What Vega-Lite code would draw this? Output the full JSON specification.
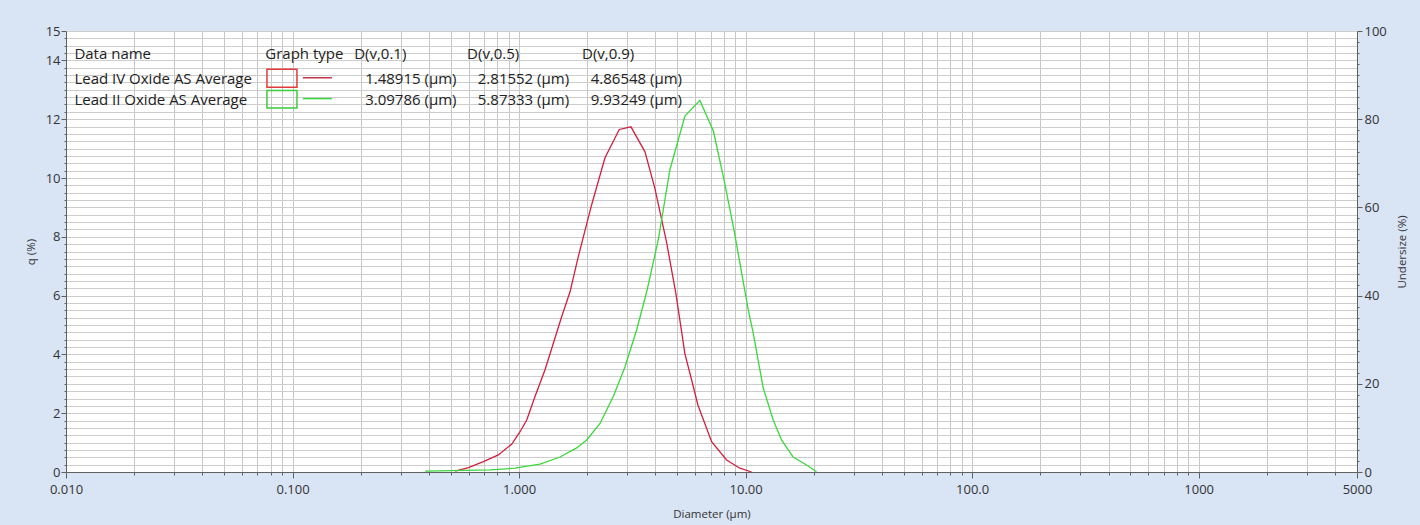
{
  "$schema": "https://vega.github.io/schema/vega-lite/v6.json",
  "width": 1291,
  "height": 441,
  "autosize": "none",
  "padding": {"left": 66, "top": 31, "right": 63, "bottom": 53},
  "background": "#d9e4f5",
  "view": {"fill": "#ffffff", "stroke": null},
  "config": {
    "font": "Open Sans",
    "axis": {"labelFont": "Open Sans", "titleFont": "Open Sans"}
  },
  "datasets": {
    "curves": [
      {"series": "Lead IV Oxide AS Average", "d": 0.522, "q": 0.03},
      {"series": "Lead IV Oxide AS Average", "d": 0.598, "q": 0.15},
      {"series": "Lead IV Oxide AS Average", "d": 0.696, "q": 0.35},
      {"series": "Lead IV Oxide AS Average", "d": 0.810, "q": 0.58},
      {"series": "Lead IV Oxide AS Average", "d": 0.929, "q": 0.95},
      {"series": "Lead IV Oxide AS Average", "d": 1.010, "q": 1.37},
      {"series": "Lead IV Oxide AS Average", "d": 1.081, "q": 1.77},
      {"series": "Lead IV Oxide AS Average", "d": 1.176, "q": 2.57},
      {"series": "Lead IV Oxide AS Average", "d": 1.302, "q": 3.48},
      {"series": "Lead IV Oxide AS Average", "d": 1.417, "q": 4.38},
      {"series": "Lead IV Oxide AS Average", "d": 1.543, "q": 5.29},
      {"series": "Lead IV Oxide AS Average", "d": 1.679, "q": 6.13},
      {"series": "Lead IV Oxide AS Average", "d": 1.821, "q": 7.29},
      {"series": "Lead IV Oxide AS Average", "d": 2.093, "q": 9.10},
      {"series": "Lead IV Oxide AS Average", "d": 2.395, "q": 10.69},
      {"series": "Lead IV Oxide AS Average", "d": 2.770, "q": 11.65},
      {"series": "Lead IV Oxide AS Average", "d": 3.119, "q": 11.74},
      {"series": "Lead IV Oxide AS Average", "d": 3.596, "q": 10.89},
      {"series": "Lead IV Oxide AS Average", "d": 3.980, "q": 9.64},
      {"series": "Lead IV Oxide AS Average", "d": 4.482, "q": 7.80},
      {"series": "Lead IV Oxide AS Average", "d": 4.926, "q": 6.06},
      {"series": "Lead IV Oxide AS Average", "d": 5.397, "q": 4.02},
      {"series": "Lead IV Oxide AS Average", "d": 5.778, "q": 3.13},
      {"series": "Lead IV Oxide AS Average", "d": 6.159, "q": 2.28},
      {"series": "Lead IV Oxide AS Average", "d": 7.079, "q": 1.03},
      {"series": "Lead IV Oxide AS Average", "d": 8.245, "q": 0.41},
      {"series": "Lead IV Oxide AS Average", "d": 9.438, "q": 0.13},
      {"series": "Lead IV Oxide AS Average", "d": 10.63, "q": 0.0},
      {"series": "Lead II Oxide AS Average", "d": 0.385, "q": 0.03},
      {"series": "Lead II Oxide AS Average", "d": 0.745, "q": 0.07},
      {"series": "Lead II Oxide AS Average", "d": 0.960, "q": 0.13},
      {"series": "Lead II Oxide AS Average", "d": 1.238, "q": 0.27},
      {"series": "Lead II Oxide AS Average", "d": 1.516, "q": 0.51},
      {"series": "Lead II Oxide AS Average", "d": 1.797, "q": 0.82},
      {"series": "Lead II Oxide AS Average", "d": 1.989, "q": 1.09},
      {"series": "Lead II Oxide AS Average", "d": 2.277, "q": 1.65},
      {"series": "Lead II Oxide AS Average", "d": 2.606, "q": 2.57},
      {"series": "Lead II Oxide AS Average", "d": 2.936, "q": 3.58},
      {"series": "Lead II Oxide AS Average", "d": 3.305, "q": 4.84},
      {"series": "Lead II Oxide AS Average", "d": 3.660, "q": 6.13},
      {"series": "Lead II Oxide AS Average", "d": 4.117, "q": 7.90},
      {"series": "Lead II Oxide AS Average", "d": 4.636, "q": 10.29},
      {"series": "Lead II Oxide AS Average", "d": 5.397, "q": 12.11},
      {"series": "Lead II Oxide AS Average", "d": 6.286, "q": 12.64},
      {"series": "Lead II Oxide AS Average", "d": 7.211, "q": 11.59},
      {"series": "Lead II Oxide AS Average", "d": 8.022, "q": 9.95},
      {"series": "Lead II Oxide AS Average", "d": 8.879, "q": 8.25},
      {"series": "Lead II Oxide AS Average", "d": 10.27, "q": 5.52},
      {"series": "Lead II Oxide AS Average", "d": 10.80, "q": 4.73},
      {"series": "Lead II Oxide AS Average", "d": 11.96, "q": 2.86},
      {"series": "Lead II Oxide AS Average", "d": 13.24, "q": 1.77},
      {"series": "Lead II Oxide AS Average", "d": 14.41, "q": 1.09},
      {"series": "Lead II Oxide AS Average", "d": 16.22, "q": 0.51},
      {"series": "Lead II Oxide AS Average", "d": 18.58, "q": 0.24},
      {"series": "Lead II Oxide AS Average", "d": 20.57, "q": 0.01}
    ],
    "summary": [
      {"series": "Lead IV Oxide AS Average", "d10": 1.48915, "d50": 2.81552, "d90": 4.86548},
      {"series": "Lead II Oxide AS Average", "d10": 3.09786, "d50": 5.87333, "d90": 9.93249}
    ]
  },
  "layer": [
    {
      "data": {"name": "curves"},
      "mark": {"type": "line", "strokeWidth": 1.3},
      "encoding": {
        "x": {
          "field": "d",
          "type": "quantitative",
          "scale": {"type": "log", "domain": [0.01, 5000], "nice": false},
          "axis": {
            "title": "Diameter (µm)",
            "values": [0.01, 0.02, 0.03, 0.04, 0.05, 0.06, 0.07, 0.08, 0.09, 0.1, 0.2, 0.3, 0.4, 0.5, 0.6, 0.7, 0.8, 0.9, 1, 2, 3, 4, 5, 6, 7, 8, 9, 10, 20, 30, 40, 50, 60, 70, 80, 90, 100, 200, 300, 400, 500, 600, 700, 800, 900, 1000, 2000, 3000, 4000, 5000],
            "labelExpr": "datum.value == 0.01 ? '0.010' : datum.value == 0.1 ? '0.100' : datum.value == 1 ? '1.000' : datum.value == 10 ? '10.00' : datum.value == 100 ? '100.0' : datum.value == 1000 ? '1000' : datum.value == 5000 ? '5000' : ''",
            "labelOverlap": false,
            "labelFlush": false,
            "labelBound": false,
            "grid": true,
            "gridColor": "#c6c6c6",
            "gridWidth": 1,
            "domainColor": "#606060",
            "tickColor": "#606060",
            "tickSize": {"condition": {"test": "indexof([0.01, 0.1, 1, 10, 100, 1000, 5000], datum.value) >= 0", "value": 6}, "value": 3},
            "labelFontSize": 13,
            "labelColor": "#333333",
            "labelPadding": 5,
            "titleFontSize": 11.5,
            "titleFontWeight": "normal",
            "titleColor": "#333333",
            "titlePadding": 12
          }
        },
        "y": {
          "field": "q",
          "type": "quantitative",
          "scale": {"domain": [0, 15], "nice": false},
          "axis": {
            "title": "q (%)",
            "values": [0, 0.25, 0.5, 0.75, 1, 1.25, 1.5, 1.75, 2, 2.25, 2.5, 2.75, 3, 3.25, 3.5, 3.75, 4, 4.25, 4.5, 4.75, 5, 5.25, 5.5, 5.75, 6, 6.25, 6.5, 6.75, 7, 7.25, 7.5, 7.75, 8, 8.25, 8.5, 8.75, 9, 9.25, 9.5, 9.75, 10, 10.25, 10.5, 10.75, 11, 11.25, 11.5, 11.75, 12, 12.25, 12.5, 12.75, 13, 13.25, 13.5, 13.75, 14, 14.25, 14.5, 14.75, 15],
            "labelExpr": "(datum.value % 2 == 0 || datum.value == 15) ? format(datum.value, 'd') : ''",
            "labelOverlap": false,
            "labelFlush": false,
            "labelBound": false,
            "grid": true,
            "gridColor": "#cdcdcd",
            "gridWidth": 1,
            "domainColor": "#606060",
            "tickColor": "#606060",
            "tickSize": {"condition": {"test": "datum.value % 2 == 0 || datum.value == 15", "value": 5}, "value": 2},
            "labelFontSize": 13,
            "labelColor": "#333333",
            "labelPadding": 1,
            "titleFontSize": 11.5,
            "titleFontWeight": "normal",
            "titleColor": "#333333",
            "titlePadding": 9
          }
        },
        "color": {
          "field": "series",
          "type": "nominal",
          "scale": {"domain": ["Lead IV Oxide AS Average", "Lead II Oxide AS Average"], "range": ["#d21f3f", "#3ad83a"]},
          "legend": null
        }
      }
    },
    {
      "layer": [
        {
          "data": {"values": [{}]},
          "mark": {"type": "text", "text": "Data name", "align": "left", "baseline": "middle", "fontSize": 15, "color": "#222222"},
          "encoding": {
            "x": {"datum": 0.01089, "type": "quantitative", "scale": {"type": "log", "domain": [0.01, 5000], "nice": false}, "axis": null},
            "y": {"datum": 14.21, "type": "quantitative", "scale": {"domain": [0, 15], "nice": false}, "axis": null}
          }
        },
        {
          "data": {"values": [{}]},
          "mark": {"type": "text", "text": "Graph type", "align": "left", "baseline": "middle", "fontSize": 15, "color": "#222222"},
          "encoding": {"x": {"datum": 0.0758, "type": "quantitative", "axis": null}, "y": {"datum": 14.21, "type": "quantitative", "axis": null}}
        },
        {
          "data": {"values": [{}]},
          "mark": {"type": "text", "text": "D(v,0.1)", "align": "left", "baseline": "middle", "fontSize": 15, "color": "#222222"},
          "encoding": {"x": {"datum": 0.1871, "type": "quantitative", "axis": null}, "y": {"datum": 14.21, "type": "quantitative", "axis": null}}
        },
        {
          "data": {"values": [{}]},
          "mark": {"type": "text", "text": "D(v,0.5)", "align": "left", "baseline": "middle", "fontSize": 15, "color": "#222222"},
          "encoding": {"x": {"datum": 0.5896, "type": "quantitative", "axis": null}, "y": {"datum": 14.21, "type": "quantitative", "axis": null}}
        },
        {
          "data": {"values": [{}]},
          "mark": {"type": "text", "text": "D(v,0.9)", "align": "left", "baseline": "middle", "fontSize": 15, "color": "#222222"},
          "encoding": {"x": {"datum": 1.896, "type": "quantitative", "axis": null}, "y": {"datum": 14.21, "type": "quantitative", "axis": null}}
        },
        {
          "data": {"name": "summary"},
          "transform": [
            {"filter": "datum.series == 'Lead IV Oxide AS Average'"},
            {"calculate": "format(datum.d10, '.5f') + ' (µm)'", "as": "t10"},
            {"calculate": "format(datum.d50, '.5f') + ' (µm)'", "as": "t50"},
            {"calculate": "format(datum.d90, '.5f') + ' (µm)'", "as": "t90"}
          ],
          "layer": [
            {
              "mark": {"type": "text", "align": "left", "baseline": "middle", "fontSize": 15, "color": "#222222"},
              "encoding": {"x": {"datum": 0.01089, "type": "quantitative", "axis": null}, "y": {"datum": 13.38, "type": "quantitative", "axis": null}, "text": {"field": "series"}}
            },
            {
              "mark": {"type": "text", "align": "left", "baseline": "middle", "fontSize": 15, "color": "#222222"},
              "encoding": {"x": {"datum": 0.2093, "type": "quantitative", "axis": null}, "y": {"datum": 13.38, "type": "quantitative", "axis": null}, "text": {"field": "t10"}}
            },
            {
              "mark": {"type": "text", "align": "left", "baseline": "middle", "fontSize": 15, "color": "#222222"},
              "encoding": {"x": {"datum": 0.6574, "type": "quantitative", "axis": null}, "y": {"datum": 13.38, "type": "quantitative", "axis": null}, "text": {"field": "t50"}}
            },
            {
              "mark": {"type": "text", "align": "left", "baseline": "middle", "fontSize": 15, "color": "#222222"},
              "encoding": {"x": {"datum": 2.072, "type": "quantitative", "axis": null}, "y": {"datum": 13.38, "type": "quantitative", "axis": null}, "text": {"field": "t90"}}
            },
            {
              "mark": {"type": "rect", "filled": false, "stroke": "#e23a3a", "strokeWidth": 1.5},
              "encoding": {"x": {"datum": 0.0771, "type": "quantitative", "axis": null}, "x2": {"datum": 0.1046}, "y": {"datum": 13.70, "type": "quantitative", "axis": null}, "y2": {"datum": 13.09}}
            },
            {
              "mark": {"type": "rule", "stroke": "#c0334a", "strokeWidth": 1.5},
              "encoding": {"x": {"datum": 0.1111, "type": "quantitative", "axis": null}, "x2": {"datum": 0.1492}, "y": {"datum": 13.41, "type": "quantitative", "axis": null}}
            }
          ]
        },
        {
          "data": {"name": "summary"},
          "transform": [
            {"filter": "datum.series == 'Lead II Oxide AS Average'"},
            {"calculate": "format(datum.d10, '.5f') + ' (µm)'", "as": "t10"},
            {"calculate": "format(datum.d50, '.5f') + ' (µm)'", "as": "t50"},
            {"calculate": "format(datum.d90, '.5f') + ' (µm)'", "as": "t90"}
          ],
          "layer": [
            {
              "mark": {"type": "text", "align": "left", "baseline": "middle", "fontSize": 15, "color": "#222222"},
              "encoding": {"x": {"datum": 0.01089, "type": "quantitative", "axis": null}, "y": {"datum": 12.67, "type": "quantitative", "axis": null}, "text": {"field": "series"}}
            },
            {
              "mark": {"type": "text", "align": "left", "baseline": "middle", "fontSize": 15, "color": "#222222"},
              "encoding": {"x": {"datum": 0.2093, "type": "quantitative", "axis": null}, "y": {"datum": 12.67, "type": "quantitative", "axis": null}, "text": {"field": "t10"}}
            },
            {
              "mark": {"type": "text", "align": "left", "baseline": "middle", "fontSize": 15, "color": "#222222"},
              "encoding": {"x": {"datum": 0.6574, "type": "quantitative", "axis": null}, "y": {"datum": 12.67, "type": "quantitative", "axis": null}, "text": {"field": "t50"}}
            },
            {
              "mark": {"type": "text", "align": "left", "baseline": "middle", "fontSize": 15, "color": "#222222"},
              "encoding": {"x": {"datum": 2.072, "type": "quantitative", "axis": null}, "y": {"datum": 12.67, "type": "quantitative", "axis": null}, "text": {"field": "t90"}}
            },
            {
              "mark": {"type": "rect", "filled": false, "stroke": "#3ccc3c", "strokeWidth": 1.5},
              "encoding": {"x": {"datum": 0.0771, "type": "quantitative", "axis": null}, "x2": {"datum": 0.1046}, "y": {"datum": 12.98, "type": "quantitative", "axis": null}, "y2": {"datum": 12.38}}
            },
            {
              "mark": {"type": "rule", "stroke": "#3ad83a", "strokeWidth": 1.5},
              "encoding": {"x": {"datum": 0.1111, "type": "quantitative", "axis": null}, "x2": {"datum": 0.1492}, "y": {"datum": 12.70, "type": "quantitative", "axis": null}}
            }
          ]
        }
      ]
    },
    {
      "data": {"values": [{}]},
      "mark": {"type": "point", "opacity": 0},
      "encoding": {
        "y": {
          "datum": 0,
          "type": "quantitative",
          "scale": {"domain": [0, 100], "nice": false},
          "axis": {
            "orient": "right",
            "title": "Undersize (%)",
            "titleAngle": 270,
            "values": [0, 2.5, 5, 7.5, 10, 12.5, 15, 17.5, 20, 22.5, 25, 27.5, 30, 32.5, 35, 37.5, 40, 42.5, 45, 47.5, 50, 52.5, 55, 57.5, 60, 62.5, 65, 67.5, 70, 72.5, 75, 77.5, 80, 82.5, 85, 87.5, 90, 92.5, 95, 97.5, 100],
            "labelExpr": "datum.value % 20 == 0 ? format(datum.value, 'd') : ''",
            "labelOverlap": false,
            "labelFlush": false,
            "labelBound": false,
            "grid": false,
            "domainColor": "#606060",
            "tickColor": "#606060",
            "tickSize": {"condition": {"test": "datum.value % 20 == 0", "value": 5}, "value": 2},
            "labelFontSize": 13,
            "labelColor": "#333333",
            "labelPadding": 2,
            "titleFontSize": 11.5,
            "titleFontWeight": "normal",
            "titleColor": "#333333",
            "titlePadding": 21
          }
        }
      }
    }
  ],
  "resolve": {
    "scale": {"x": "independent", "y": "independent"},
    "axis": {"x": "independent", "y": "independent"}
  }
}
